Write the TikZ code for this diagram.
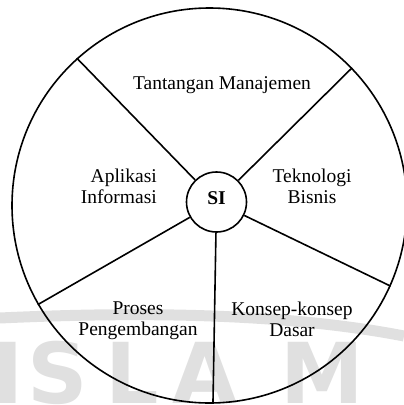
\documentclass[tikz,border=0pt]{standalone}
\usepackage{fontspec}
\setmainfont{Liberation Serif}
\newfontfamily\wmfont{DejaVu Sans}

\tikzset{
	rim/.style={circle, draw=black, line width=1.6pt, inner sep=0pt},
	spoke/.style={line width=1.6pt},
	part/.style={font=\fontsize{19.5}{21}\selectfont, inner sep=0pt},
	wm/.style={font=\wmfont\bfseries\fontsize{84}{84}\selectfont, text=black!12, inner sep=0pt, anchor=base},
}

\begin{document}
\begin{tikzpicture}[x=1pt,y=-1pt]
		\useasboundingbox (0,0) rectangle (404,405);
		% faint watermark behind the wheel
		\draw[black!12, line width=11pt] (0,318) .. controls (130,312) and (280,312) .. (404,336);
		\foreach \ch/\xx in {I/8,S/58,L/132,A/205,M/322}
			\node[wm] (wm\ch) at (\xx,403) {\ch};
		% wheel
		\node[rim, minimum size=395pt] (whole) at (209.5,205.5) {};
		\node[rim, minimum size=60pt, font=\fontsize{19.5}{21}\selectfont\bfseries] (si) at (216.5,202) {\raisebox{4pt}[\height][0pt]{SI}};
		\foreach \a in {132,44,-24,210,-89}
			\draw[spoke] (si) -- (whole.\a);
		\node[part, anchor=base] (mgmt) at (222,89) {Tantangan Manajemen};
		\node[part, align=right, anchor=east] (apps) at (157,186) {Aplikasi\\Informasi};
		\node[part, align=center] (tech) at (312,186.5) {Teknologi\\Bisnis};
		\node[part, align=center] (dev) at (138,321) {Proses\\Pengembangan};
		\node[part, align=center] (basics) at (292,319) {Konsep-konsep\\Dasar};
	\end{tikzpicture}
\end{document}
